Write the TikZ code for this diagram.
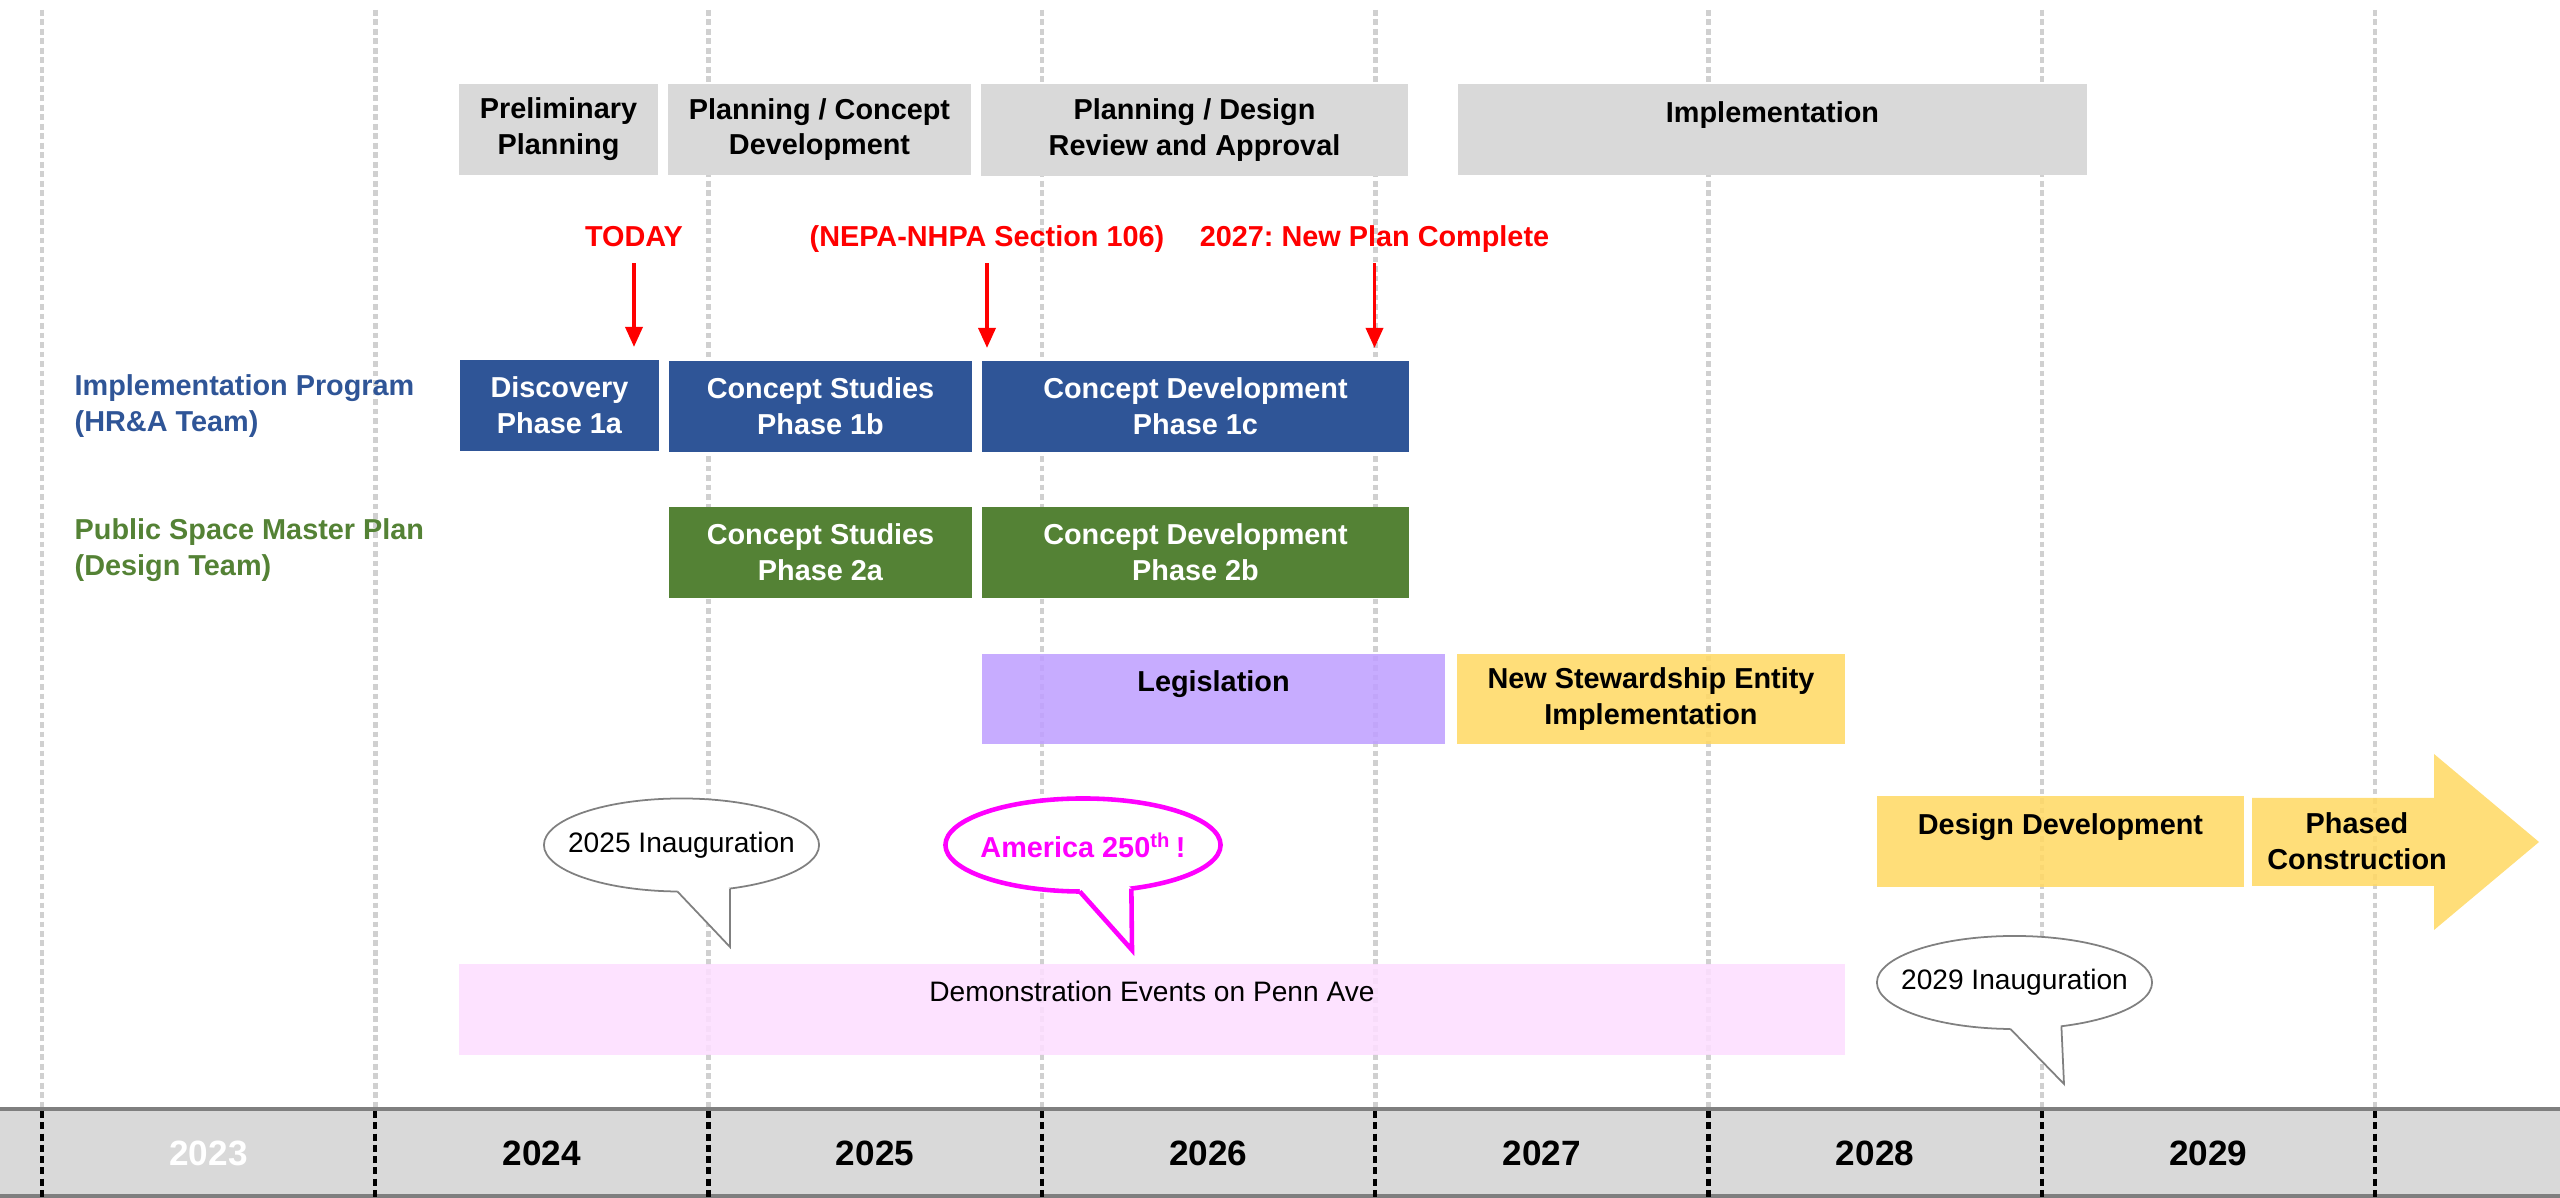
\documentclass[tikz,border=0pt]{standalone}
\usepackage{fontspec}
\setmainfont{Liberation Sans}
\usetikzlibrary{shapes.geometric,arrows.meta,calc}
\frenchspacing
\definecolor{hdrgray}{HTML}{D9D9D9}
\definecolor{gridgray}{HTML}{D0D0D0}
\definecolor{bandgray}{HTML}{7F7F7F}
\definecolor{progblue}{HTML}{2F5597}
\definecolor{plangreen}{HTML}{548235}
\definecolor{legpurple}{HTML}{BFA0FF}
\definecolor{stewyellow}{HTML}{FFD966}
\definecolor{demopink}{HTML}{FDDEFF}
\definecolor{callmag}{HTML}{FF00FF}
\newcommand{\lblfont}{\fontsize{8.2}{10.2}\selectfont\bfseries}
\newcommand{\txtfont}{\fontsize{8}{10.2}\selectfont}
\begin{document}
\begin{tikzpicture}[x=0.01cm,y=-0.01cm,
    box/.style={rectangle,inner sep=0pt,outer sep=0pt,align=center,font=\lblfont,minimum height=0.91cm},
    hdr/.style={box,fill=hdrgray},
    phase1/.style={box,fill=progblue,text=white},
    phase2/.style={box,fill=plangreen,text=white},
    soft/.style={box,fill opacity=0.88,text opacity=1},
    milestone/.style={font=\lblfont,text=red,inner sep=2pt,text height=6pt,text depth=1.5pt},
    redarrow/.style={red,line width=1pt,shorten <=1pt,shorten >=3.7pt,-{Triangle[width=0.17cm,length=0.2cm]}},
    bubble/.style={ellipse,draw=gray,fill=white,line width=0.5pt,inner sep=0pt,outer sep=0pt,minimum width=2.75cm,minimum height=0.93cm,font=\txtfont},
    grid/.style={gridgray,line width=1.3pt,dash pattern=on 1.6pt off 1.1pt},
    yearline/.style={black,line width=1.2pt,dash pattern=on 2pt off 1.2pt},
    year/.style={font=\fontsize{10}{12}\selectfont\bfseries}]
\useasboundingbox (0,0) rectangle (2560,1198);
\foreach \k in {0,...,7}
    \draw[grid] (42+333.3*\k,10) -- (42+333.3*\k,1109);
% phases
\node[hdr,minimum width=1.99cm] (prelim) at (558.5,129.5) {Preliminary\\Planning};
\node[hdr,minimum width=3.03cm] (planconc) at (819.5,129.5) {Planning / Concept\\Development};
\node[hdr,minimum width=4.27cm] (plandes) at (1194.5,130) {Planning / Design\\Review and Approval};
\node[hdr,minimum width=6.29cm] (implement) at (1772.5,129.5) {Implementation\\~};
\node[milestone] (today) at (634,239) {TODAY};
\node[milestone] (nepa) at (987,239) {(NEPA-NHPA Section 106)};
\node[milestone] (newplan) at (1374.5,239) {2027: New Plan Complete};
\node[font=\lblfont,text=progblue,align=left,anchor=west,inner sep=0pt] (implprog) at (74,406) {Implementation Program\\(HR\&A Team)};
\node[font=\lblfont,text=plangreen,align=left,anchor=west,inner sep=0pt] (masterplan) at (74,550) {Public Space Master Plan\\(Design Team)};
\node[phase1,minimum width=1.99cm] (disc) at (559.5,405.5) {Discovery\\Phase 1a};
\node[phase1,minimum width=3.03cm] (cs1b) at (820.5,406.5) {Concept Studies\\Phase 1b};
\node[phase1,minimum width=4.27cm] (cd1c) at (1195.5,406.5) {Concept Development\\Phase 1c};
\node[phase2,minimum width=3.03cm] (cs2a) at (820.5,552.5) {Concept Studies\\Phase 2a};
\node[phase2,minimum width=4.27cm] (cd2b) at (1195.5,552.5) {Concept Development\\Phase 2b};
\draw[redarrow] (today.south) -- (today.south |- disc.north);
\draw[redarrow] (nepa.south) -- (nepa.south |- cd1c.north);
\draw[redarrow] (newplan.south) -- (newplan.south |- cd1c.north);
\node[soft,fill=legpurple,minimum width=4.63cm,minimum height=0.9cm] (legis) at (1213.5,699) {Legislation\\~};
\node[soft,fill=stewyellow,minimum width=3.88cm,minimum height=0.9cm] (steward) at (1651,699) {New Stewardship Entity\\Implementation};
\node[soft,fill=stewyellow,minimum width=3.67cm] (desdev) at (2060.5,841.5) {Design Development\\~};
\fill[stewyellow,fill opacity=0.88] (2252,798) -- (2434,798) -- (2434,754) -- (2539,842) -- (2434,930) -- (2434,886) -- (2252,886) -- cycle;
\node[font=\lblfont,align=center] (phased) at (2357,841.5) {Phased\\Construction};
\node[soft,fill=demopink,minimum width=13.86cm,font=\txtfont] (demo) at (1152,1009.5) {Demonstration Events on Penn Ave\\~};
% callouts
\node[bubble] (inaug25) at (681.5,845) {\makebox[0pt]{2025 Inauguration}};
\coordinate (inaug25tip) at (730,947);
\fill[white] (inaug25.-95) -- (inaug25tip) -- (inaug25.-42) -- ($(inaug25.-42)!0.1!(inaug25.center)$) -- ($(inaug25.-95)!0.1!(inaug25.center)$) -- cycle;
\draw[gray,line width=0.5pt] (inaug25.-95) -- (inaug25tip) -- (inaug25.-42);
\node[bubble,draw=callmag,line width=1.3pt,text=callmag,font=\lblfont] (america) at (1083,845) {\makebox[0pt]{America 250\textsuperscript{th}\,!}};
\coordinate (americatip) at (1132,950);
\fill[white] (america.-94) -- (americatip) -- (america.-42) -- ($(america.-42)!0.12!(america.center)$) -- ($(america.-94)!0.12!(america.center)$) -- cycle;
\draw[callmag,line width=1.3pt] (america.-94) -- (americatip) -- (america.-42);
\node[bubble] (inaug29) at (2014.5,982.5) {\makebox[0pt]{2029 Inauguration}};
\coordinate (inaug29tip) at (2064,1084);
\fill[white] (inaug29.-95) -- (inaug29tip) -- (inaug29.-43) -- ($(inaug29.-43)!0.1!(inaug29.center)$) -- ($(inaug29.-95)!0.1!(inaug29.center)$) -- cycle;
\draw[gray,line width=0.5pt] (inaug29.-95) -- (inaug29tip) -- (inaug29.-43);
% years
\fill[hdrgray] (0,1109) rectangle (2560,1196);
\draw[bandgray,line width=1.2pt] (0,1109) -- (2560,1109);
\draw[bandgray,line width=1.2pt] (0,1196) -- (2560,1196);
\foreach \k in {0,...,7}
    \draw[yearline] (42+333.3*\k,1111) -- (42+333.3*\k,1198);
\node[year,text=white] (yr2023) at (208.5,1153) {2023};
\foreach \yr [count=\i] in {2024,...,2029}
    \node[year] (yr\yr) at (208.5+333.3*\i,1153) {\yr};
\end{tikzpicture}
\end{document}
